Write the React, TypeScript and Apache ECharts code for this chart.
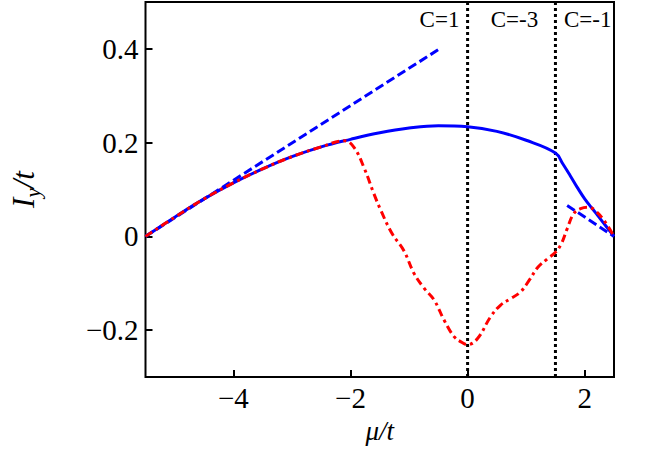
import React, { useEffect, useRef } from "react";
import * as echarts from "echarts";

const FONT = "'Liberation Serif', 'Times New Roman', serif";

const xTicks = [-4, -2, 0, 2];
const yTicks = [-0.2, 0, 0.2, 0.4];

const solidX = [-5.5, -5, -4.5, -4, -3.5, -3, -2.5, -2, -1.5, -1, -0.5, 0, 0.5, 1, 1.5, 1.625, 1.75, 1.875, 2, 2.125, 2.25, 2.375, 2.5];
const solidY = [0, 0.041, 0.08, 0.114, 0.144, 0.17, 0.191, 0.207, 0.221, 0.231, 0.236, 0.234, 0.224, 0.205, 0.178, 0.155, 0.13, 0.104, 0.08, 0.06, 0.04, 0.02, 0];

const redX = [-5.5, -5, -4.5, -4, -3.5, -3, -2.5, -2.1, -1.94, -1.77, -1.6, -1.48, -1.29, -1.09, -0.915, -0.74, -0.57, -0.4, -0.23, -0.1, 0, 0.17, 0.39, 0.56, 0.73, 0.9, 1.05, 1.2, 1.36, 1.5, 1.6, 1.7, 1.81, 1.93, 2.07, 2.18, 2.33, 2.5];
const redY = [0, 0.041, 0.08, 0.114, 0.144, 0.17, 0.191, 0.204, 0.19, 0.147, 0.091, 0.055, 0.006, -0.03, -0.079, -0.111, -0.136, -0.179, -0.214, -0.226, -0.231, -0.218, -0.172, -0.147, -0.133, -0.119, -0.094, -0.066, -0.048, -0.034, -0.016, 0.016, 0.048, 0.059, 0.062, 0.055, 0.034, 0];

const dash1X = [-5.5, -0.48];
const dash1Y = [0, 0.4];
const dash2X = [1.7, 2.5];
const dash2Y = [0.066, 0];

const boundaryX = [0, 1.5];
const yRange = [-0.3, 0.5];

const regionLabels = ["C=1", "C=-3", "C=-1"];
const regionLabelX = [-0.48, 0.8, 2.05];
const regionLabelY = [0.463, 0.463, 0.463];

const zip = (xs: number[], ys: number[]) => xs.map((x, i) => [x, ys[i]]);

const fmt = (v: number) => {
  let s: string;
  if (Math.abs(v) < 1e-9) s = "0";
  else {
    const r = String(Math.round(v * 10) / 10);
    s = v < 0 ? "\u2212" + r.slice(1) : r;
  }
  return "{t|" + s + "}";
};

const tickRich = { t: { fontFamily: FONT, fontSize: 29, color: "#000" } };

export default function App() {
  const ref = useRef<HTMLDivElement>(null);
  useEffect(() => {
    document.body.style.margin = "0";
    if (!ref.current) return;
    const chart = echarts.init(ref.current, undefined, { renderer: "svg" });
    const boundarySeries = boundaryX.map((bx) => ({
      type: "line",
      data: [[bx, yRange[0]], [bx, yRange[1]]],
      symbol: "none",
      lineStyle: { color: "#000", width: 3, type: [3, 3] },
      z: 3,
    }));
    chart.setOption({
      animation: false,
      backgroundColor: "#fff",
      textStyle: { fontFamily: FONT, color: "#000" },
      grid: { left: 144, right: 50, top: 2, bottom: 73, show: true, borderColor: "#000", borderWidth: 2, backgroundColor: "transparent" },
      xAxis: {
        type: "value",
        min: -5.5,
        max: 2.5,
        axisLine: { show: false, onZero: false },
        splitLine: { show: false },
        axisTick: { show: true, inside: true, length: 7, lineStyle: { color: "#000", width: 2 }, customValues: xTicks },
        axisLabel: { customValues: xTicks, formatter: fmt, rich: tickRich, fontSize: 29, fontFamily: FONT, color: "#000", margin: 6 },
        name: "μ/t",
        nameLocation: "middle",
        nameGap: 40,
        nameTextStyle: { fontStyle: "italic", fontSize: 27, fontFamily: FONT, color: "#000" },
      },
      yAxis: {
        type: "value",
        min: yRange[0],
        max: yRange[1],
        axisLine: { show: false, onZero: false },
        splitLine: { show: false },
        axisTick: { show: true, inside: true, length: 7, lineStyle: { color: "#000", width: 2 }, customValues: yTicks },
        axisLabel: { customValues: yTicks, formatter: fmt, rich: tickRich, fontSize: 29, fontFamily: FONT, color: "#000", margin: 7 },
        name: "{a|I}{b|y}{a|/t}",
        nameLocation: "middle",
        nameGap: 102,
        nameTextStyle: {
          color: "#000",
          fontFamily: FONT,
          rich: {
            a: { fontStyle: "italic", fontSize: 31, fontFamily: FONT, color: "#000", lineHeight: 40, verticalAlign: "middle" },
            b: { fontStyle: "italic", fontSize: 21, fontFamily: FONT, color: "#000", lineHeight: 40, verticalAlign: "bottom" },
          },
        },
      },
      series: [
        ...boundarySeries,
        {
          type: "line",
          data: zip(dash1X, dash1Y),
          symbol: "none",
          lineStyle: { color: "#0000ff", width: 3, type: [9, 4] },
          z: 4,
        },
        {
          type: "line",
          data: zip(dash2X, dash2Y),
          symbol: "none",
          lineStyle: { color: "#0000ff", width: 3, type: [9, 4] },
          z: 4,
        },
        {
          type: "line",
          data: zip(solidX, solidY),
          symbol: "none",
          smooth: 0.4,
          lineStyle: { color: "#0000ff", width: 3 },
          z: 5,
        },
        {
          type: "line",
          data: zip(redX, redY),
          symbol: "none",
          smooth: 0.4,
          lineStyle: { color: "#ff0000", width: 3, type: [8, 4, 3, 4] },
          z: 6,
        },
        {
          type: "scatter",
          data: regionLabels.map((t, i) => [regionLabelX[i], regionLabelY[i], t]),
          symbolSize: 1,
          itemStyle: { color: "rgba(0,0,0,0)", opacity: 1 },
          emphasis: { disabled: true },
          label: {
            show: true,
            position: "inside",
            formatter: (p: any) => "{c|" + p.data[2] + "}",
            rich: { c: { fontSize: 23, fontFamily: FONT, color: "#000" } },
            fontSize: 23,
            fontFamily: FONT,
            color: "#000",
            opacity: 1,
          },
          z: 7,
        },
      ],
    });
    return () => chart.dispose();
  }, []);
  return <div ref={ref} style={{ width: 664, height: 450 }} />;
}
